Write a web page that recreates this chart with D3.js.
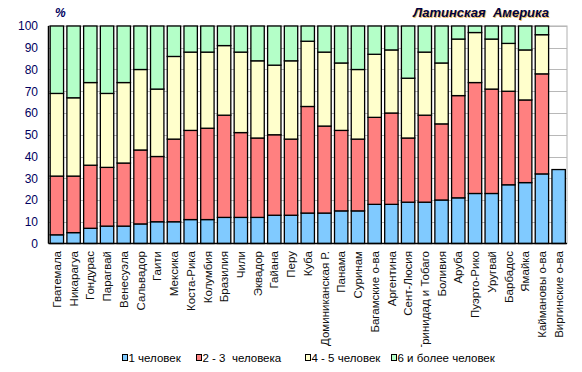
<!DOCTYPE html>
<html>
<head>
<meta charset="utf-8">
<script src="https://cdn.jsdelivr.net/npm/d3@7"></script>
<style>
  body { margin: 0; background: #fff; }
  svg { display: block; font-family: Arial, 'Liberation Sans', sans-serif; }
</style>
</head>
<body>
<div id="chart-container"></div>
<script>
const countries = [
  'Гватемала', 'Никарагуа', 'Гондурас', 'Парагвай', 'Венесуэла', 'Сальвадор', 'Гаити',
  'Мексика', 'Коста-Рика', 'Колумбия', 'Бразилия', 'Чили', 'Эквадор', 'Гайана', 'Перу',
  'Куба', 'Доминиканская Р.', 'Панама', 'Суринам', 'Багамские о-ва', 'Аргентина',
  'Сент-Люсия', 'Тринидад и Тобаго', 'Боливия', 'Аруба', 'Пуэрто-Рико', 'Уругвай',
  'Барбадос', 'Ямайка', 'Каймановы о-ва', 'Виргинские о-ва'
];
const seriesNames = ['1 человек', '2 - 3  человека', '4 - 5 человек', '6 и более человек'];
const onePerson = [4, 5, 7, 8, 8, 9, 10, 10, 11, 11, 12, 12, 12, 13, 13, 14, 14, 15, 15, 18, 18, 19, 19, 20, 21, 23, 23, 27, 28, 32, 34];
const twoThree = [27, 26, 29, 27, 29, 34, 30, 38, 41, 42, 47, 39, 36.5, 37, 35, 49, 40, 37, 33, 40, 42, 29.5, 40, 35, 47, 51, 48, 43, 38, 46, null];
const fourFive = [38, 36, 38, 34, 37, 37, 31, 38, 36, 35, 32, 37, 35.5, 32, 36, 30, 34, 31, 32, 29, 29, 27.5, 29, 28, 26, 23, 23, 22, 23, 18, null];
const sixPlus = [31, 33, 26, 31, 26, 20, 29, 14, 12, 12, 9, 12, 16, 18, 16, 7, 12, 17, 20, 13, 11, 24, 12, 17, 6, 3, 6, 8, 11, 4, null];
const yTicks = [0, 10, 20, 30, 40, 50, 60, 70, 80, 90, 100];

const colors = ['#80CAFF', '#FF8080', '#FFFFCC', '#B4FFC8'];

const width = 582;
const height = 372;
const margin = { left: 48.5, right: 15, top: 26, bottom: 128.5 };

const rows = countries.map((name, i) => ({
  name,
  s0: onePerson[i],
  s1: twoThree[i],
  s2: fourFive[i],
  s3: sixPlus[i]
}));
const keys = ['s0', 's1', 's2', 's3'];

const svg = d3.select('#chart-container').append('svg')
  .attr('width', width)
  .attr('height', height);

const x = d3.scaleBand()
  .domain(countries)
  .range([margin.left, width - margin.right])
  .paddingInner(0.2)
  .paddingOuter(0.1);

const y = d3.scaleLinear()
  .domain([0, 100])
  .range([height - margin.bottom, margin.top]);

// plot frame + grid
svg.append('rect')
  .attr('x', margin.left)
  .attr('y', margin.top)
  .attr('width', width - margin.right - margin.left)
  .attr('height', y(0) - margin.top)
  .attr('fill', 'none')
  .attr('stroke', '#b0b0b0');

svg.append('g')
  .selectAll('line')
  .data(yTicks.filter(d => d > 0))
  .join('line')
    .attr('x1', margin.left)
    .attr('x2', width - margin.right)
    .attr('y1', d => Math.round(y(d)) + 0.5)
    .attr('y2', d => Math.round(y(d)) + 0.5)
    .attr('stroke', '#b8b8b8');

// bars
const stacked = d3.stack()
  .keys(keys)
  .value((d, k) => d[k] ?? 0)(rows);

svg.append('g')
  .selectAll('g')
  .data(stacked)
  .join('g')
    .attr('fill', (d, i) => colors[i])
  .selectAll('rect')
  .data(d => d.filter(s => s[1] - s[0] > 0))
  .join('rect')
    .attr('x', d => x(d.data.name))
    .attr('y', d => y(d[1]))
    .attr('width', x.bandwidth())
    .attr('height', d => y(d[0]) - y(d[1]))
    .attr('stroke', '#000')
    .attr('stroke-width', 1.3);

// axes lines
svg.append('line')
  .attr('x1', margin.left).attr('x2', margin.left)
  .attr('y1', margin.top).attr('y2', y(0))
  .attr('stroke', '#000').attr('stroke-width', 1.5);
svg.append('line')
  .attr('x1', margin.left).attr('x2', width - margin.right)
  .attr('y1', y(0)).attr('y2', y(0))
  .attr('stroke', '#000').attr('stroke-width', 1.5);

// y tick labels
svg.append('g')
  .selectAll('text')
  .data(yTicks)
  .join('text')
    .attr('x', 38)
    .attr('y', d => y(d))
    .attr('dy', '0.36em')
    .attr('text-anchor', 'end')
    .attr('font-size', 12)
    .attr('fill', '#000060')
    .text(d => d);

svg.append('text')
  .attr('x', 55)
  .attr('y', 17)
  .attr('font-size', 12)
  .attr('font-style', 'italic')
  .attr('font-weight', 'bold')
  .attr('fill', '#000060')
  .text('%');

// x labels, clipped like the original
svg.append('clipPath')
  .attr('id', 'label-clip')
  .append('rect')
    .attr('x', 0).attr('y', y(0))
    .attr('width', width).attr('height', 347 - y(0));

svg.append('g')
  .attr('clip-path', 'url(#label-clip)')
  .selectAll('text')
  .data(countries)
  .join('text')
    .attr('transform', d => `translate(${x(d) + x.bandwidth() / 2},251) rotate(-90)`)
    .attr('dy', '0.36em')
    .attr('text-anchor', 'end')
    .attr('font-size', 11.5)
    .attr('fill', '#101010')
    .text(d => d);

// title with soft shadow
const title = 'Латинская  Америка';
svg.append('text')
  .attr('x', 550).attr('y', 18)
  .attr('text-anchor', 'end')
  .attr('font-size', 13)
  .attr('font-style', 'italic')
  .attr('font-weight', 'bold')
  .attr('fill', '#f0c060')
  .style('white-space', 'pre')
  .text(title);
svg.append('text')
  .attr('x', 549).attr('y', 17)
  .attr('text-anchor', 'end')
  .attr('font-size', 13)
  .attr('font-style', 'italic')
  .attr('font-weight', 'bold')
  .attr('fill', '#000040')
  .style('white-space', 'pre')
  .text(title);

// legend
const legendX = [122, 196, 305, 391];
const legend = svg.append('g')
  .selectAll('g')
  .data(seriesNames)
  .join('g')
    .attr('transform', (d, i) => `translate(${legendX[i]},358)`);

legend.append('rect')
  .attr('x', 0.5).attr('y', -3.5)
  .attr('width', 5).attr('height', 6)
  .attr('fill', (d, i) => colors[i])
  .attr('stroke', '#000');

legend.append('text')
  .attr('x', 6.5)
  .attr('y', 0)
  .attr('dy', '0.36em')
  .attr('font-size', 11.5)
  .attr('fill', '#000')
  .style('white-space', 'pre')
  .text(d => d);
</script>
</body>
</html>
